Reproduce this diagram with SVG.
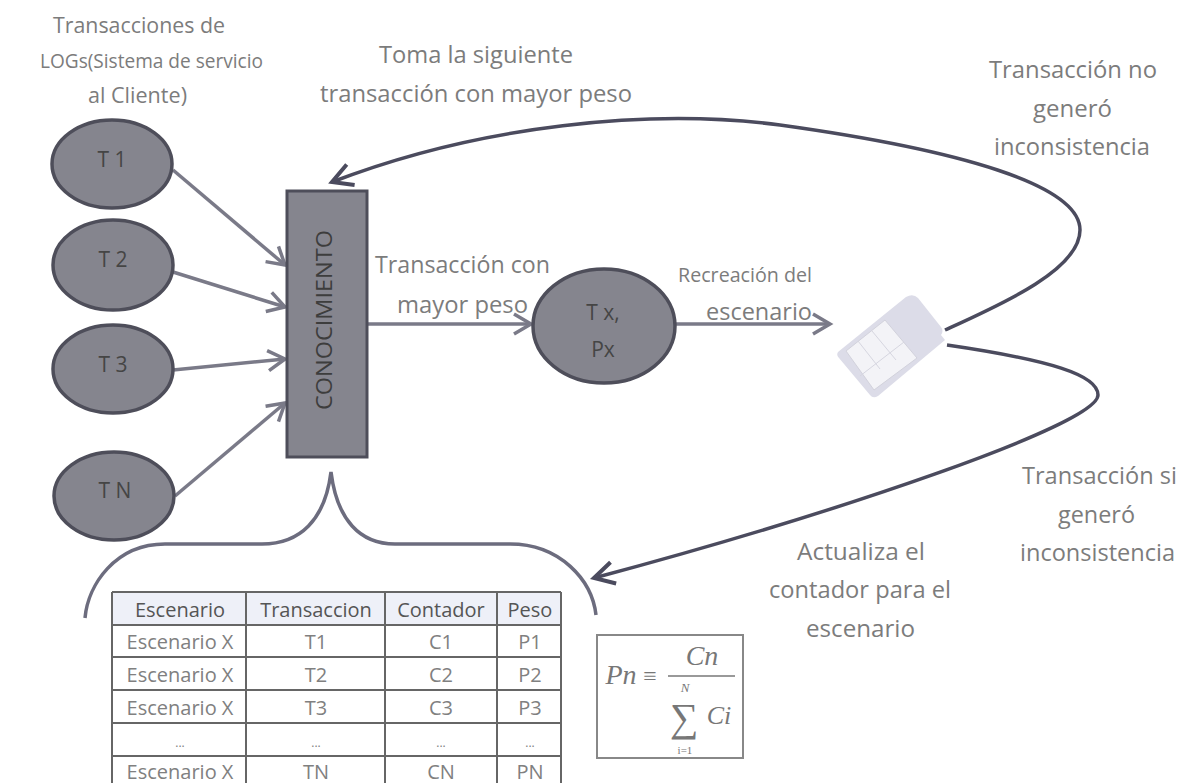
<svg xmlns="http://www.w3.org/2000/svg" width="1180" height="783" viewBox="0 0 1180 783">
<defs>
<marker id="a" markerUnits="userSpaceOnUse" markerWidth="30" markerHeight="30" refX="23" refY="15" orient="auto"><path d="M6 5L23 15L6 25" fill="none" stroke="#7a7a88" stroke-width="3.5"/></marker>
<marker id="b" markerUnits="userSpaceOnUse" markerWidth="36" markerHeight="36" refX="29" refY="18" orient="auto"><path d="M9 7L29 18L9 29" fill="none" stroke="#4b4b5e" stroke-width="4"/></marker>
</defs>
<style>
text{font-family:"Open Sans","Noto Sans","Liberation Sans",sans-serif;fill:#7c7c7c}
.l{font-size:23.5px}
.s{font-size:21.5px}
.n ellipse{fill:#85858e;stroke:#4e4e5a;stroke-width:3.5}
.n text{fill:#454545;font-size:21px;text-anchor:middle}
.c{fill:none;stroke:#7a7a88;stroke-width:3.5}
.d{fill:none;stroke:#4b4b5e;stroke-width:3.5}
.br{fill:none;stroke:#6c6c7e;stroke-width:3.5}
.t{font-size:20px;fill:#808080;text-anchor:middle}
.h{font-size:20px;fill:#555;text-anchor:middle}
.g{stroke:#666;stroke-width:2;fill:none}
.f{font-family:"Liberation Serif",serif;font-style:italic;fill:#777;text-anchor:middle}
</style>
<rect width="1180" height="783" fill="#fff"/>
<g id="labels">
<text class="s" x="53" y="33" textLength="172" lengthAdjust="spacingAndGlyphs">Transacciones de</text>
<text x="40" y="68" textLength="223" lengthAdjust="spacingAndGlyphs" style="font-size:20px">LOGs(Sistema de servicio</text>
<text class="s" x="88" y="103" textLength="99" lengthAdjust="spacingAndGlyphs">al Cliente)</text>
<text class="l" x="379" y="63" textLength="194" lengthAdjust="spacingAndGlyphs">Toma la siguiente</text>
<text class="l" x="320" y="102" textLength="312" lengthAdjust="spacingAndGlyphs">transacción con mayor peso</text>
<text class="l" x="989" y="78" textLength="168" lengthAdjust="spacingAndGlyphs">Transacción no</text>
<text class="l" x="1033" y="117" textLength="79" lengthAdjust="spacingAndGlyphs">generó</text>
<text class="l" x="994" y="155" textLength="156" lengthAdjust="spacingAndGlyphs">inconsistencia</text>
<text class="l" x="375" y="273" textLength="175" lengthAdjust="spacingAndGlyphs">Transacción con</text>
<text class="l" x="397" y="313" textLength="131" lengthAdjust="spacingAndGlyphs">mayor peso</text>
<text x="678" y="282" textLength="134" lengthAdjust="spacingAndGlyphs" style="font-size:20.5px">Recreación del</text>
<text class="l" x="706" y="320" textLength="106" lengthAdjust="spacingAndGlyphs">escenario</text>
<text class="l" x="1022" y="484" textLength="155" lengthAdjust="spacingAndGlyphs">Transacción si</text>
<text class="l" x="1058" y="523" textLength="77" lengthAdjust="spacingAndGlyphs">generó</text>
<text class="l" x="1020" y="561" textLength="155" lengthAdjust="spacingAndGlyphs">inconsistencia</text>
<text class="l" x="797" y="560" textLength="128" lengthAdjust="spacingAndGlyphs">Actualiza el</text>
<text class="l" x="769" y="598" textLength="182" lengthAdjust="spacingAndGlyphs">contador para el</text>
<text class="l" x="806" y="637" textLength="109" lengthAdjust="spacingAndGlyphs">escenario</text>
</g>
<g id="connectors">
<path class="c" d="M173 170L285 265" marker-end="url(#a)"/>
<path class="c" d="M173 272L285 307" marker-end="url(#a)"/>
<path class="c" d="M173 370L285 359" marker-end="url(#a)"/>
<path class="c" d="M175 496L285 403" marker-end="url(#a)"/>
<path class="c" d="M368 324H531" marker-end="url(#a)"/>
<path class="c" d="M676 324H830" marker-end="url(#a)"/>
<path class="d" d="M945 330C1000 305 1080 270 1080 230C1080 185 960 150 780 125C650 108 480 125 332 182" marker-end="url(#b)"/>
<path class="d" d="M947 345C1050 360 1098 375 1098 395C1098 425 830 515 594 578" marker-end="url(#b)"/>
<path class="br" d="M85 618C88 585 115 544 165 544H262C300 544 325 520 331 472C337 520 360 544 395 544H510C560 544 592 580 596 615"/>
</g>
<g id="t1" class="n"><ellipse cx="112" cy="164" rx="60" ry="44"/><text x="112" y="167">T 1</text></g>
<g id="t2" class="n"><ellipse cx="113" cy="265" rx="60" ry="45"/><text x="113" y="267">T 2</text></g>
<g id="t3" class="n"><ellipse cx="113" cy="369" rx="60" ry="44"/><text x="113" y="372">T 3</text></g>
<g id="tn" class="n"><ellipse cx="114" cy="496" rx="60" ry="44"/><text x="115" y="498">T N</text></g>
<g id="conocimiento"><rect x="287" y="191" width="80" height="266" fill="#85858e" stroke="#4e4e5a" stroke-width="3"/><text transform="translate(332 410) rotate(-90)" textLength="180" lengthAdjust="spacingAndGlyphs" style="font-size:21px;fill:#3d3d3d">CONOCIMIENTO</text></g>
<g id="tx" class="n"><ellipse cx="604" cy="326" rx="71" ry="57"/><text x="603" y="320">T x,</text><text x="603" y="357">Px</text></g>
<g id="sim">
<path d="M838 352L906 297Q913 293 918 298L941 327Q944 331 941 335L945 340L878 396Q873 399 870 395L839 358Q836 355 838 352Z" fill="#dcdce8"/>
<path d="M846 351L885 320L917 358L874 390Z" fill="#f3f3f7" stroke="#d2d2dc"/>
<path d="M858 341L880 369M872 331L896 360M860 376L904 342" stroke="#d6d6e0" fill="none"/>
</g>
<g id="table">
<rect x="112" y="592" width="449" height="33" fill="#eef0f8"/>
<path class="g" d="M112 592H561M112 625H561M112 657H561M112 690H561M112 723H561M112 756H561M112 592V783M246 592V783M385 592V783M497 592V783M561 592V783"/>
<text class="h" x="180" y="617">Escenario</text>
<text class="h" x="316" y="617">Transaccion</text>
<text class="h" x="441" y="617">Contador</text>
<text class="h" x="530" y="617">Peso</text>
<text class="t" x="180" y="649">Escenario X</text><text class="t" x="316" y="649">T1</text><text class="t" x="441" y="649">C1</text><text class="t" x="530" y="649">P1</text>
<text class="t" x="180" y="682">Escenario X</text><text class="t" x="316" y="682">T2</text><text class="t" x="441" y="682">C2</text><text class="t" x="530" y="682">P2</text>
<text class="t" x="180" y="715">Escenario X</text><text class="t" x="316" y="715">T3</text><text class="t" x="441" y="715">C3</text><text class="t" x="530" y="715">P3</text>
<text class="t" x="180" y="747" style="font-size:12px">...</text><text class="t" x="316" y="747" style="font-size:12px">...</text><text class="t" x="441" y="747" style="font-size:12px">...</text><text class="t" x="530" y="747" style="font-size:12px">...</text>
<text class="t" x="180" y="779">Escenario X</text><text class="t" x="316" y="779">TN</text><text class="t" x="441" y="779">CN</text><text class="t" x="530" y="779">PN</text>
</g>
<g id="formula">
<rect x="597" y="635" width="146" height="123" fill="#fff" stroke="#888" stroke-width="2"/>
<text class="f" x="621" y="684" style="font-size:28px">Pn</text>
<text class="f" x="650" y="684" style="font-size:24px;font-style:normal">≡</text>
<path d="M668 676H735" stroke="#777" stroke-width="1.5"/>
<text class="f" x="702" y="665" style="font-size:28px">Cn</text>
<text class="f" x="685" y="692" style="font-size:13px">N</text>
<text class="f" x="684" y="731" style="font-size:40px;font-style:normal">∑</text>
<text class="f" x="719" y="724" style="font-size:26px">Ci</text>
<text class="f" x="685" y="754" style="font-size:11px;font-style:normal">i=1</text>
</g>
</svg>
